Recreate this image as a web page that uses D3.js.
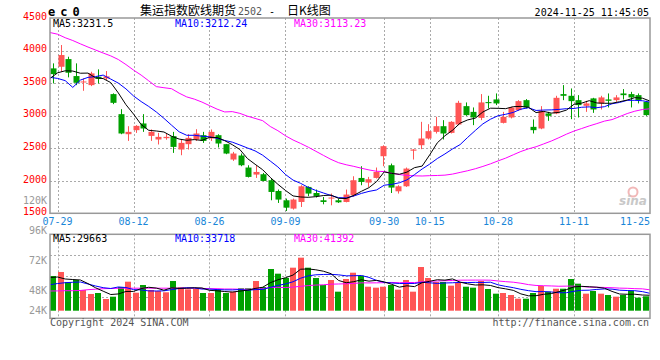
<!DOCTYPE html>
<html><head><meta charset="utf-8">
<script src="https://cdn.jsdelivr.net/npm/d3@7"></script>
<style>
body{margin:0;background:#fff}
svg{display:block}
text{font-family:"DejaVu Sans Mono","Liberation Mono",monospace;font-size:10px}
</style>
</head><body>
<svg id="c" width="660" height="360"></svg>
<script>
const dates = ["07-26","07-29","07-30","07-31","08-01","08-02","08-05","08-06","08-07","08-08",
"08-09","08-12","08-13","08-14","08-15","08-16","08-19","08-20","08-21","08-22",
"08-23","08-26","08-27","08-28","08-29","08-30","09-02","09-03","09-04","09-05",
"09-06","09-09","09-10","09-11","09-12","09-13","09-18","09-19","09-20","09-23",
"09-24","09-25","09-26","09-27","09-30","10-08","10-09","10-10","10-11","10-14",
"10-15","10-16","10-17","10-18","10-21","10-22","10-23","10-24","10-25","10-28",
"10-29","10-30","10-31","11-01","11-04","11-05","11-06","11-07","11-08","11-11",
"11-12","11-13","11-14","11-15","11-18","11-19","11-20","11-21","11-22","11-25"];
const tickLabels = ["07-29","08-12","08-26","09-09","09-30","10-15","10-28","11-11","11-25"];
const opens = [3726,3751,3869,3608,3510,3469,3597,3572,3331,3023,
2715,2777,2880,2689,2634,2654,2685,2480,2562,2634,
2700,2649,2700,2562,2326,2388,2203,2095,2100,2008,
1843,1700,1572,1674,1905,1812,1700,1726,1700,1674,
1777,2043,1972,2043,2377,2238,1838,1915,2462,2546,
2649,2751,2838,2735,2864,3146,3058,2966,3208,3249,
2889,2972,3085,3238,2828,2803,3034,3034,3331,3305,
3238,3151,3265,3188,3249,3238,3341,3331,3315,3212];
const highs = [3803,4085,3905,3803,3572,3674,3711,3685,3342,3100,
2838,2854,3023,2788,2735,2726,2751,2634,2715,2792,
2751,2788,2715,2565,2443,2418,2238,2238,2120,2034,
1865,1726,1726,1931,1915,1865,1751,1803,1726,1865,
2069,2223,2059,2203,2545,2264,1931,2203,2485,2905,
2869,2982,2931,2915,3228,3203,3126,3331,3305,3341,
3058,3136,3238,3254,2942,3146,3058,3305,3469,3418,
3315,3228,3274,3305,3341,3315,3408,3366,3341,3228];
const lows = [3495,3674,3588,3469,3382,3454,3495,3546,3177,2715,
2612,2735,2751,2612,2557,2630,2428,2392,2480,2612,
2582,2612,2511,2408,2305,2223,2050,2043,1992,1700,
1659,1535,1557,1597,1762,1742,1638,1623,1659,1668,
1751,1931,1905,2034,2223,1812,1803,1905,2326,2485,
2634,2726,2634,2726,2854,2997,2854,2931,3111,3162,
2880,2957,3074,3111,2726,2792,2920,3023,3238,2946,
2972,3058,3043,3095,3126,3212,3249,3126,3188,2997];
const closes = [3638,3931,3659,3505,3525,3649,3566,3603,3197,2726,
2751,2843,2803,2751,2674,2674,2520,2582,2659,2726,
2612,2751,2572,2418,2418,2238,2059,2135,1997,1828,
1711,1587,1711,1915,1803,1762,1674,1742,1669,1788,
2008,1982,2023,2135,2531,1895,1915,2187,2480,2649,
2762,2838,2726,2905,3197,3008,2972,3203,3192,3188,
2982,3126,3223,3126,2777,3074,2997,3274,3305,3223,
3162,3188,3095,3280,3228,3280,3315,3280,3238,3008];
const volumes = [67700,75500,56000,59900,40400,32600,34500,22800,27300,46200,
56600,35100,50100,40400,38400,35900,57900,45600,41700,42300,
34500,34500,41000,34500,37100,43700,43700,57900,46200,81300,
72200,63800,83900,103400,83900,63800,50100,59900,37100,61800,
74100,68300,46800,44900,46800,50100,41000,59900,37100,85200,
63800,56000,56000,48800,54000,46800,44900,57900,42300,33200,
34500,30600,23400,23400,34500,48200,37100,42900,42900,61800,
52700,33200,38400,33200,30600,27300,30600,39000,25400,28100];
// moving-average values for the first days (their history lies before the window)
const ma5Lead = [3572,3658,3689,3685];
const ma10Lead = [3588,3572,3538,3434,3546,3588,3600,3623,3562];
const ma30Lead = [4277,4251,4197,4154,4103,4054,4008,3962,3918,3862,
3785,3700,3623,3535,3446,3429,3414,3346,3288,3254,
3209,3154,3100,3057,3062,3035,2992,2958,2923];
const vma5Lead = [64700,65700,61800,60800];
const vma10Lead = [50700,53000,54600,55400,56000,52100,48200,44900,43300];
const vma30Lead = [38400,38600,39000,39000,39400,41000,41900,42900,43300,43700,
43900,43900,43900,43900,43900,43900,43900,43900,43900,43900,
43500,42900,42900,42300,42300,41900,41900,41900,42900];
const priceTicks = [4500,4000,3500,3000,2500,2000,1500];
const volTickLabels = ["120K","96K","72K","48K","24K"];
const maLegendPrice = ["MA5:3231.5","MA10:3212.24","MA30:3113.23"];
const maLegendVol = ["MA5:29663","MA10:33718","MA30:41392"];
const titleParts = ["集运指数欧线期货","2502","-","日K线图"];
const stamp = "2024-11-25 11:45:05";

function movingAvg(vals, n, lead){
  return vals.map((v,i)=> i < n-1 ? lead[i] : d3.mean(vals.slice(i-n+1,i+1)));
}
const ma5 = movingAvg(closes,5,ma5Lead), ma10 = movingAvg(closes,10,ma10Lead), ma30 = movingAvg(closes,30,ma30Lead);
const vma5 = movingAvg(volumes,5,vma5Lead), vma10 = movingAvg(volumes,10,vma10Lead), vma30 = movingAvg(volumes,30,vma30Lead);

const RED="#ff5555", GREEN="#00a000", GRID="#aaaaaa", BORDER="#999999";
const L=50, R=650, PT=18, PB=213.3, VT=234.3, VB=318.3, VBASE=310.7;
const svg = d3.select("#c");
const idx = d3.range(dates.length);
const xb = d3.scaleBand().domain(idx).range([L,R]);
const xl = d3.scaleLinear().domain([0,dates.length-1]).range([L,R]);
const yP = d3.scaleLinear().domain([1500,4500]).range([PB,PT]);
const yV = d3.scaleLinear().domain([0,149000]).range([VBASE,VT]);
const yVLab = d3.scaleLinear().domain([0,1,2,3,4]).range([204,234,264.3,294,314]);
const tickIdx = tickLabels.map(t=>dates.indexOf(t));

const g = svg.append("g");
// grids
const dash = "2,2";
g.selectAll(".hg").data(priceTicks.slice(1,-1)).enter().append("line")
  .attr("x1",L).attr("x2",R).attr("y1",d=>Math.round(yP(d))+0.5).attr("y2",d=>Math.round(yP(d))+0.5)
  .attr("stroke",GRID).attr("stroke-dasharray",dash);
g.selectAll(".vg").data(tickIdx.filter(i=>xl(i)<R-2)).enter().append("line")
  .attr("x1",i=>Math.round(xl(i))+0.5).attr("x2",i=>Math.round(xl(i))+0.5).attr("y1",PT).attr("y2",PB)
  .attr("stroke",GRID).attr("stroke-dasharray",dash);
g.selectAll(".vg2").data(tickIdx.filter(i=>xl(i)<R-2)).enter().append("line")
  .attr("x1",i=>Math.round(xl(i))+0.5).attr("x2",i=>Math.round(xl(i))+0.5).attr("y1",VT).attr("y2",VB)
  .attr("stroke",GRID).attr("stroke-dasharray",dash);
g.selectAll(".hv").data([1,2,3]).enter().append("line")
  .attr("x1",L).attr("x2",R).attr("y1",k=>Math.round(VT+k*(VB-VT)/4)+0.5).attr("y2",k=>Math.round(VT+k*(VB-VT)/4)+0.5)
  .attr("stroke",GRID).attr("stroke-dasharray",dash);

// sina watermark
g.append("circle").attr("cx",633).attr("cy",192).attr("r",4.5).attr("fill","none").attr("stroke","#f2b8b8").attr("stroke-width",2);
g.append("text").attr("x",619).attr("y",205).text("sina")
  .style("font-family","DejaVu Sans").style("font-size","12px").style("font-weight","bold").style("font-style","italic").attr("fill","#c8c8c8");

const up = i => closes[i] >= opens[i];
// volume bars
g.selectAll(".vb").data(idx).enter().append("rect")
  .attr("x",i=>Math.round(xb(i))).attr("width",6)
  .attr("y",i=>yV(volumes[i])).attr("height",i=>VBASE-yV(volumes[i]))
  .attr("fill",i=>up(i)?RED:GREEN);

// candles
const cx = i => Math.floor(xb(i)+xb.bandwidth()/2)+0.5;
g.selectAll(".wk").data(idx).enter().append("line")
  .attr("x1",cx).attr("x2",cx).attr("y1",i=>yP(highs[i])).attr("y2",i=>yP(lows[i]))
  .attr("stroke",i=>up(i)?RED:GREEN).attr("stroke-width",1);
g.selectAll(".bd").data(idx).enter().append("rect")
  .attr("x",i=>cx(i)-3).attr("width",6)
  .attr("y",i=>yP(Math.max(opens[i],closes[i])))
  .attr("height",i=>Math.max(1,Math.abs(yP(opens[i])-yP(closes[i]))))
  .attr("fill",i=>up(i)?RED:GREEN);

// MA lines
const lineP = d3.line().x((d,i)=>xl(i)).y(d=>yP(d));
const lineV = d3.line().x((d,i)=>xl(i)).y(d=>yV(d));
[[ma30,"#ff00ff"],[ma10,"#0000ff"],[ma5,"#000000"]].forEach(([s,c])=>
  g.append("path").attr("d",lineP(s)).attr("fill","none").attr("stroke",c).attr("stroke-width",1));
[[vma30,"#ff00ff"],[vma10,"#0000ff"],[vma5,"#000000"]].forEach(([s,c])=>
  g.append("path").attr("d",lineV(s)).attr("fill","none").attr("stroke",c).attr("stroke-width",1));

// borders
g.append("rect").attr("x",L).attr("y",PT).attr("width",R-L).attr("height",PB-PT).attr("fill","none").attr("stroke",BORDER).attr("stroke-width",1.5);
g.append("rect").attr("x",L).attr("y",VT).attr("width",R-L).attr("height",VB-VT).attr("fill","none").attr("stroke",BORDER).attr("stroke-width",1.5);

// price labels
g.selectAll(".pl").data(priceTicks).enter().append("text")
  .attr("x",47).attr("y",d=>yP(d)+1.8).attr("text-anchor","end").attr("fill","#ff0000").text(d=>d);
// volume labels
g.selectAll(".vl").data(volTickLabels).enter().append("text")
  .attr("x",47).attr("y",(d,i)=>yVLab(i)).attr("text-anchor","end").attr("fill","#999999").text(d=>d);
// date labels
g.selectAll(".dl").data(tickIdx).enter().append("text")
  .attr("x",i=> xl(i)+15>R ? R : xl(i)).attr("y",225)
  .attr("text-anchor",i=> xl(i)+15>R ? "end":"middle").attr("fill","#1a86d8").text(i=>dates[i]);

// legends
const legColors = ["#000000","#0000ff","#ff00ff"], legX = [53,175,294];
maLegendPrice.forEach((t,k)=>g.append("text").attr("x",legX[k]).attr("y",27).attr("fill",legColors[k]).text(t));
maLegendVol.forEach((t,k)=>g.append("text").attr("x",legX[k]).attr("y",242).attr("fill",legColors[k]).text(t));

// header
g.append("text").attr("x",48).attr("y",15.7).attr("fill","#000").style("font-weight","bold").style("font-size","12px").style("letter-spacing","5px").text("ec0");
g.append("text").attr("x",140).attr("y",14.5).style("font-family","'Noto Sans CJK SC'").style("font-size","12px").attr("fill","#000").text(titleParts[0]);
g.append("text").attr("x",238).attr("y",15).attr("fill","#555").text(titleParts[1]);
g.append("text").attr("x",269).attr("y",15).attr("fill","#000").text(titleParts[2]);
g.append("text").attr("x",287).attr("y",14.5).style("font-family","'Noto Sans CJK SC'").style("font-size","12px").attr("fill","#000").text(titleParts[3]);
g.append("text").attr("x",649).attr("y",15.5).attr("text-anchor","end").attr("fill","#000").text(stamp);

// footer
g.append("text").attr("x",50).attr("y",326).attr("fill","#555").text("Copyright 2024 SINA.COM");
g.append("text").attr("x",649).attr("y",326).attr("text-anchor","end").attr("fill","#555").text("http://finance.sina.com.cn");
</script>
</body></html>
